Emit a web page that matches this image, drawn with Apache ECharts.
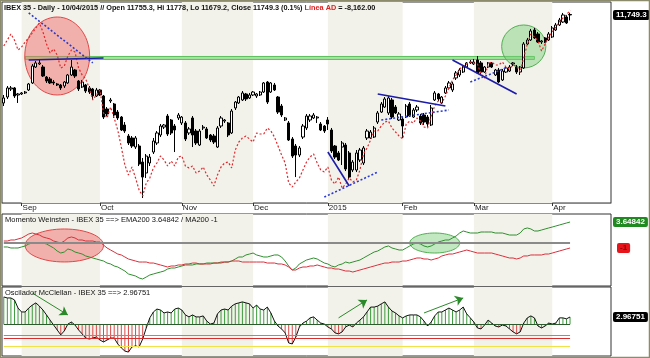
<!DOCTYPE html>
<html><head><meta charset="utf-8">
<script src="https://cdn.jsdelivr.net/npm/echarts@6/dist/echarts.min.js"></script>
<style>html,body{margin:0;padding:0;background:#fff}#c{width:650px;height:358px}</style>
</head><body><div id="c"></div>
<script>
// ---- x-axis: trading-day slots, month labels ----
const slotCount = 171;
const monthLabels = ['Sep', 'Oct', 'Nov', 'Dec', '2015', 'Feb', 'Mar', 'Apr'];
const monthStart = [5, 27, 50, 70, 91, 112, 132, 154];
const shadedMonths = [[5, 27], [50, 70], [91, 112], [132, 154]];

// ---- IBEX 35 daily OHLC ----
const priceOpen = [10623,10699,10802,10815,10725,10738,10751,10789,10879,11083,
11122,11083,10955,10930,10891,10866,10853,10840,10879,10981,
11045,10904,10827,10853,10815,10802,10712,10789,10712,10546,
10648,10610,10507,10443,10341,10200,10175,10059,10072,9867,
9727,9855,9995,10111,10213,10315,10456,10405,10328,10431,
10367,10367,10239,10431,10264,10085,10303,10290,10213,10200,
10059,10328,10392,10367,10239,10559,10623,10661,10738,10687,
10725,10712,10725,10763,10891,10763,10853,10699,10584,10405,
10367,10162,10072,9957,10187,10303,10405,10431,10431,10354,
10328,10405,10277,10072,9983,10059,10085,9983,9765,9765,
9893,9855,10175,10175,10187,10379,10507,10571,10495,10661,
10571,10405,10418,10443,10610,10443,10533,10456,10469,10443,
10341,10661,10738,10623,10751,10815,10789,10943,10981,11019,
11083,11135,11122,11173,11135,11019,11083,11135,10981,11045,
10917,11019,11032,11122,11083,11019,11071,11378,11429,11557,
11506,11403,11455,11429,11467,11557,11621,11659,11723,11755.3];
const priceClose = [10687,10815,10815,10712,10738,10751,10763,10866,11096,11135,
11135,10968,10904,10879,10879,10853,10815,10891,10981,11083,
10968,10802,10891,10776,10763,10712,10789,10725,10443,10482,
10661,10469,10431,10277,10264,10111,10072,10175,9842,9675,
9944,9931,10136,10239,10328,10341,10226,10239,10277,10469,
10443,10162,10290,10213,10111,10264,10315,10175,10149,10123,
10303,10431,10405,10213,10520,10635,10699,10751,10674,10725,
10763,10738,10763,10879,10635,10879,10789,10507,10469,10431,
10149,9944,9957,10047,10328,10456,10456,10469,10443,10277,
10264,10354,10008,9931,9893,10111,9778,9675,9867,9983,
10021,10047,10264,10251,10303,10495,10610,10674,10687,10443,
10495,10482,10328,10584,10456,10533,10571,10367,10379,10354,
10559,10751,10674,10699,10815,10879,10866,11007,11045,11083,
11135,11147,11147,11007,11019,11083,11135,11083,11045,10891,
11032,11071,11083,11135,11019,11083,11378,11429,11544,11455,
11403,11416,11403,11506,11583,11621,11685,11749,11647,11749.3];
const priceLow = [10584,10674,10776,10687,10623,10725,10738,10776,10866,11071,
11109,10955,10879,10866,10853,10840,10789,10815,10866,10968,
10943,10776,10815,10751,10738,10661,10699,10712,10418,10456,
10623,10431,10405,10264,10239,10085,10047,10034,9816,9407,
9663,9816,9970,10085,10187,10290,10200,10213,9995,10405,
10341,10136,10213,10059,10085,10072,10277,10162,10123,10098,
10047,10303,10367,10187,10226,10533,10610,10648,10648,10674,
10712,10687,10712,10751,10610,10751,10776,10482,10443,10392,
10136,9919,9675,9931,10162,10277,10379,10418,10367,10264,
10239,10277,9983,9906,9880,9829,9752,9650,9739,9739,
9867,9829,10149,10162,10175,10354,10495,10559,10469,10418,
10482,10392,10175,10431,10443,10431,10507,10341,10341,10315,
10328,10648,10648,10610,10738,10802,10763,10917,10955,11007,
11071,11122,11109,10994,10994,11007,11071,11071,10968,10879,
10904,11007,11019,11096,10994,10981,11058,11365,11416,11442,
11391,11378,11391,11416,11455,11544,11608,11647,11634,11679.2];
const priceHigh = [10725,10840,10840,10827,10751,10763,10776,10879,11122,11160,
11173,11109,10968,10955,10917,10879,10866,10904,10994,11173,
11058,10917,10917,10866,10840,10815,10815,10802,10725,10571,
10687,10623,10533,10456,10379,10226,10200,10200,10098,9919,
9970,9970,10175,10264,10354,10354,10482,10418,10354,10495,
10456,10392,10315,10456,10290,10290,10341,10315,10226,10226,
10328,10456,10418,10379,10546,10648,10712,10776,10751,10751,
10776,10751,10776,10891,10904,10891,10879,10712,10610,10443,
10392,10187,10098,10072,10354,10482,10482,10495,10456,10379,
10341,10443,10303,10085,10008,10136,10111,10008,9893,10021,
10047,10072,10290,10277,10328,10520,10635,10699,10712,10687,
10597,10507,10443,10610,10635,10559,10597,10482,10495,10469,
10597,10776,10751,10712,10840,10904,10891,11032,11071,11096,
11147,11173,11186,11224,11160,11096,11147,11147,11058,11071,
11058,11096,11109,11147,11109,11096,11403,11455,11570,11583,
11531,11429,11467,11531,11608,11647,11711,11775,11749,11778];

// ---- Línea AD (advance/decline line) ----
const adLine = [-9062,-8912,-8762,-8912,-9162,-9087,-8962,-8862,-8737,-8612,
-8487,-8712,-9012,-9237,-9137,-9287,-9612,-9562,-9312,-9162,
-9212,-9612,-9787,-9887,-10112,-10412,-10287,-10162,-10737,-10862,
-10587,-10862,-11162,-11587,-12037,-12287,-12087,-12362,-12662,-12812,
-12487,-12362,-12112,-11987,-11812,-11912,-12062,-11937,-12062,-11837,
-11812,-12062,-12112,-12062,-12237,-12187,-12087,-12287,-12412,-12562,
-12287,-12087,-11987,-11962,-12112,-11662,-11462,-11362,-11312,-11387,
-11462,-11237,-11262,-11262,-11112,-11187,-11337,-11562,-11787,-11987,
-12487,-12587,-12462,-12362,-12162,-11962,-11837,-11762,-11987,-12162,
-12212,-12087,-12412,-12512,-12337,-12612,-12512,-12362,-12462,-12412,
-12162,-11762,-11612,-11412,-11187,-11187,-11062,-10962,-10937,-11112,
-11212,-11312,-11387,-11012,-10937,-10987,-10862,-10937,-11087,-11112,
-10812,-10562,-10437,-10487,-10312,-10112,-9912,-9787,-9637,-9562,
-9512,-9462,-9487,-9512,-9762,-9862,-9512,-9462,-9537,-9537,
-9462,-9587,-9637,-9537,-9562,-9712,-9362,-9012,-8762,-8837,
-8937,-9187,-9012,-8837,-8712,-8587,-8462,-8362,-8287,-8162];

// ---- Momento Weinsten: EMA200 (green) and MA200 (red) ----
const emaMomentum = [-0.82,-0.82,-1.00,-1.00,-1.00,-0.82,-0.64,-0.29,-0.11,-0.11,
-0.11,-0.11,-0.29,-0.64,-1.00,-1.54,-1.90,-1.72,-1.18,-1.36,
-1.72,-1.90,-2.08,-2.43,-2.61,-2.79,-2.97,-3.15,-3.33,-3.69,
-3.86,-4.22,-4.40,-4.76,-5.12,-5.65,-5.83,-6.01,-6.37,-6.55,
-6.19,-5.83,-5.65,-5.47,-5.30,-5.12,-4.76,-4.58,-4.58,-4.40,
-4.22,-4.04,-4.04,-4.04,-3.86,-3.86,-3.86,-3.69,-3.69,-3.69,
-3.69,-3.51,-3.51,-3.51,-3.33,-2.97,-2.61,-2.61,-2.25,-2.08,
-1.90,-2.25,-2.43,-2.61,-2.61,-2.43,-2.25,-2.25,-2.61,-3.33,
-4.22,-4.94,-4.58,-3.86,-3.51,-3.15,-2.97,-2.79,-2.97,-3.33,
-3.69,-3.86,-4.22,-4.40,-4.04,-3.86,-3.51,-3.69,-3.51,-3.33,
-3.15,-2.79,-2.43,-2.08,-1.72,-1.54,-1.18,-0.82,-0.64,-1.00,
-1.18,-1.36,-1.36,-1.00,-0.64,-0.29,-0.11,-0.29,-0.64,-0.82,
-0.64,-0.29,0.07,0.25,0.43,0.43,0.79,1.14,1.68,2.04,
1.86,1.68,1.68,1.68,1.86,1.86,1.86,1.86,1.68,1.68,
1.68,1.50,1.32,1.32,1.32,1.68,2.40,2.58,2.40,2.04,
2.04,2.22,2.40,2.58,2.75,2.93,3.11,3.29,3.47,3.64842];
const maMomentum = [0.25,0.25,0.43,0.43,0.61,0.79,1.14,1.50,1.68,1.50,
1.32,0.97,0.79,0.61,0.25,0.07,-0.11,0.25,0.79,0.97,
0.79,0.43,0.43,0.25,0.25,0.25,0.07,0.07,-0.47,-1.00,
-1.36,-1.72,-2.08,-2.25,-2.61,-2.97,-3.15,-3.33,-3.51,-3.51,
-3.51,-3.69,-3.69,-3.86,-4.04,-4.22,-4.40,-4.22,-4.22,-4.04,
-4.04,-3.86,-3.86,-3.69,-3.69,-3.86,-3.86,-3.86,-3.86,-3.69,
-3.69,-3.69,-3.51,-3.51,-3.33,-3.33,-3.33,-3.51,-3.51,-3.51,
-3.51,-3.51,-3.51,-3.51,-3.69,-3.69,-3.69,-3.86,-3.86,-4.04,
-4.40,-4.94,-4.94,-4.58,-4.40,-4.40,-4.22,-4.22,-4.04,-4.22,
-4.40,-4.58,-4.58,-4.76,-4.76,-4.94,-5.12,-5.12,-5.30,-5.12,
-4.94,-4.76,-4.58,-4.40,-4.22,-4.04,-3.86,-3.69,-3.69,-3.51,
-3.51,-3.51,-3.33,-3.33,-3.15,-2.97,-2.79,-2.79,-2.97,-2.97,
-3.15,-2.97,-2.79,-2.43,-2.25,-2.08,-2.08,-1.90,-1.72,-1.54,
-1.36,-1.54,-1.72,-1.90,-1.90,-1.90,-1.90,-1.90,-2.08,-2.25,
-2.43,-2.61,-2.79,-2.79,-2.97,-2.79,-2.43,-2.43,-2.25,-2.25,
-2.25,-2.25,-2.08,-2.08,-1.90,-1.72,-1.54,-1.36,-1.18,-1];

// ---- Oscilador McClellan ----
const mcclellan = [11.1,10.7,10.7,9.9,6.6,5.0,5.0,6.6,7.8,8.7,
7.4,5.8,3.8,1.7,-0.3,-2.3,-4.3,-2.7,0.1,0.9,
-0.3,-2.3,-3.9,-5.6,-6.0,-5.6,-5.2,-6.4,-7.2,-6.4,
-5.6,-5.6,-8.0,-9.6,-10.9,-11.3,-9.2,-8.8,-9.2,-6.0,
-1.5,2.6,5.0,6.2,5.8,4.6,5.0,4.6,6.2,6.6,
5.8,3.8,3.0,3.8,3.0,3.0,3.4,1.3,0.1,0.5,
4.2,5.8,6.2,5.8,7.4,8.3,8.7,9.1,8.7,8.3,
6.6,7.8,6.2,5.8,7.0,4.6,1.3,-0.7,-1.9,-3.5,
-7.6,-8.0,-5.2,-1.1,0.5,1.3,2.6,3.0,1.7,0.5,
0.1,-1.1,-1.9,-3.5,-3.9,-3.1,-1.1,-0.3,-1.1,0.5,
1.7,3.0,5.0,7.0,7.0,7.4,8.3,9.1,7.0,5.4,
4.6,3.4,2.6,3.4,3.8,3.8,3.8,3.0,1.3,-0.7,
0.9,3.4,5.0,5.0,5.8,6.6,5.8,5.0,5.8,7.0,
4.2,2.6,0.9,-1.5,-1.9,-0.3,1.7,0.5,-0.7,-1.1,
-0.3,-0.7,-1.9,-3.1,-3.9,-3.1,0.5,2.6,3.4,2.6,
-0.7,-1.5,-0.7,0.5,0.1,0.5,2.6,2.6,2.2,2.96751];
const mcLevels = [{v: -4.35, c: '#e8743c'}, {v: -5.77, c: '#d43030'}, {v: -9.02, c: '#f2e24a'}];

// ---- annotations (day slot, value) ----
const solidTrendlines = [[[7, 11173], [28, 11199]], [[91, 9995], [97, 9560]], [[105, 10738], [124, 10584]], [[126, 11173], [144, 10738]]];
const dottedTrendlines = [[[7, 11775], [25, 11135]], [[90, 9419], [105, 9739]], [[106, 10405], [125, 10533]], [[131, 10891], [141, 11071]]];
const resistanceBand = [[6, 11218], [149, 11180]];
const priceEllipses = [[15, 11224, 9.1, 499, 0], [146, 11346, 6.2, 275, 1]];
const momentumEllipses = [[17, -0.55, 11.0, 2.95, 0], [121, -0.11, 7.0, 1.79, 1]];
const mcArrows = [[[8, 12.7], [18, 3.8]], [[94, 2.6], [102, 9.9]], [[118, 4.6], [129, 10.7]]];

const FONT = '"Liberation Sans", Arial, sans-serif';
const slots = Array.from({length: slotCount}, (_, i) => i);
const isMonthStart = (i) => monthStart.indexOf(i) >= 0;
const lastIdx = priceClose.length - 1;

function shadeItem(params, api) {
  const s = api.coord([api.value(0), api.value(2)]);
  const e = api.coord([api.value(1), api.value(2)]);
  const cs = params.coordSys;
  return {type: 'rect', shape: {x: s[0], y: cs.y, width: e[0] - s[0], height: cs.height}, style: {fill: '#f3f2ea'}};
}
const ellipseFill = ['rgba(240,110,110,0.5)', 'rgba(120,205,120,0.45)'];
const ellipseStroke = ['#e04848', '#50b050'];
function ellipseItem(params, api) {
  const cx = api.value(0), cy = api.value(1);
  const c = api.coord([cx, cy]);
  const band = api.size([1, 0], [cx, cy])[0];
  const ry = api.size([0, api.value(3) * 2], [cx, cy])[1] / 2;
  const k = api.value(4);
  return {type: 'ellipse', shape: {cx: c[0], cy: c[1], rx: band * api.value(2), ry: ry},
    style: {fill: ellipseFill[k], stroke: ellipseStroke[k], lineWidth: 1}};
}
function shadeSeries(xi, yi) {
  return {type: 'custom', xAxisIndex: xi, yAxisIndex: yi, z: 0, silent: true, clip: false,
    renderItem: shadeItem, encode: {x: [0, 1], y: 2},
    data: shadedMonths.map(m => [m[0], m[1], yi === 0 ? 10000 : 0])};
}

const gridBase = {left: 2, width: 609, show: true, borderColor: '#333', borderWidth: 1, backgroundColor: 'transparent'};
const hiddenX = (gi) => ({type: 'category', gridIndex: gi, data: slots, boundaryGap: true,
  axisLine: {show: false}, axisTick: {show: false}, axisLabel: {show: false}, splitLine: {show: false}});
const hiddenY = (gi, min, max) => ({type: 'value', gridIndex: gi, min: min, max: max,
  axisLine: {show: false}, axisTick: {show: false}, axisLabel: {show: false}, splitLine: {show: false}});

const hiddenLine = {color: 'rgba(0,0,0,0)', width: 0};
const endLabel = (text, bg, fg) => ({show: true, position: 'end', distance: 2, formatter: text,
  backgroundColor: bg, color: fg, fontFamily: FONT, fontSize: 8, fontWeight: 'bold', padding: [1, 3, 1, 3], borderRadius: 2});

const priceMarkLines = [];
solidTrendlines.forEach(t => priceMarkLines.push([{coord: t[0], lineStyle: {color: '#1c1ca8', width: 1.6, type: 'solid'}}, {coord: t[1]}]));
dottedTrendlines.forEach(t => priceMarkLines.push([{coord: t[0], lineStyle: {color: '#2a3acc', width: 1.6, type: [2, 2]}}, {coord: t[1]}]));

const mcMarkLines = [
  [{coord: [0, 0], lineStyle: {color: '#2c5a2c', width: 1, type: 'solid'}}, {coord: [lastIdx, 0]}]
];
mcLevels.forEach(l => mcMarkLines.push([{coord: [0, l.v], lineStyle: {color: l.c, width: 1.2, type: 'solid'}}, {coord: [lastIdx, l.v]}]));
mcArrows.forEach(a => mcMarkLines.push([{coord: a[0], symbol: 'none', lineStyle: {color: '#2a8a2a', width: 1, type: 'solid'}}, {coord: a[1], symbol: 'arrow', symbolSize: 8}]));

// value-tag series: a plain markLine at the last value, label at the right edge
function tagSeries(xi, yi, value, text, bg, fg, dist) {
  return {type: 'line', xAxisIndex: xi, yAxisIndex: yi, data: [], clip: false, silent: true, z: 10,
    markLine: {silent: true, symbol: 'none', animation: false,
      data: [{yAxis: value, lineStyle: hiddenLine, label: Object.assign(endLabel(text, bg, fg), {distance: dist})}]}};
}

const chart = echarts.init(document.getElementById('c'), null, {renderer: 'canvas'});
chart.setOption({
  animation: false,
  backgroundColor: '#fff',
  textStyle: {fontFamily: FONT},
  title: [
    {left: 4, top: 4, padding: 0, text: '{a|IBEX 35 - Daily - 10/04/2015 // Open 11755.3, Hi 11778, Lo 11679.2, Close 11749.3 (0.1%) }{r|Línea AD}{a| = -8,162.00}',
      textStyle: {rich: {a: {fontFamily: FONT, fontSize: 7.3, color: '#111'}, r: {fontFamily: FONT, fontSize: 7.3, color: '#e02020'}}}},
    {left: 5, top: 216, padding: 0, text: 'Momento Weinsten - IBEX 35 ==> EMA200 3.64842 / MA200 -1',
      textStyle: {fontFamily: FONT, fontSize: 7.5, fontWeight: 'normal', color: '#111'}},
    {left: 5, top: 289, padding: 0, text: 'Oscilador McClellan - IBEX 35 ==> 2.96751',
      textStyle: {fontFamily: FONT, fontSize: 7.5, fontWeight: 'normal', color: '#111'}}
  ],
  grid: [
    Object.assign({}, gridBase, {top: 2, height: 201}),
    Object.assign({}, gridBase, {top: 214, height: 72}),
    Object.assign({}, gridBase, {top: 287, height: 69})
  ],
  xAxis: [
    {type: 'category', gridIndex: 0, data: slots, boundaryGap: true,
      axisLine: {show: true, lineStyle: {color: '#888'}},
      axisTick: {show: true, interval: isMonthStart, alignWithLabel: true, length: 3, lineStyle: {color: '#333'}},
      axisLabel: {show: true, interval: isMonthStart, align: 'left', margin: 1, fontFamily: FONT, fontSize: 8, color: '#222', padding: [0, 0, 0, 1],
        formatter: (v, i) => monthLabels[monthStart.indexOf(i)] || ''},
      splitLine: {show: false}},
    hiddenX(1), hiddenX(2)
  ],
  yAxis: [
    hiddenY(0, 9343, 11915),
    hiddenY(0, -12987, -7962),
    hiddenY(1, -7.8, 5.08),
    hiddenY(2, -12.9, 15.16)
  ],
  series: [
    shadeSeries(0, 0), shadeSeries(1, 2), shadeSeries(2, 3),
    {type: 'custom', xAxisIndex: 0, yAxisIndex: 0, z: 1, silent: true, clip: false, renderItem: ellipseItem,
      encode: {x: 0, y: 1}, data: priceEllipses},
    {type: 'candlestick', xAxisIndex: 0, yAxisIndex: 0, z: 2, barWidth: 2.7, clip: false,
      data: priceOpen.map((o, i) => [o, priceClose[i], priceLow[i], priceHigh[i]]),
      itemStyle: {color: '#fff', color0: '#000', borderColor: '#000', borderColor0: '#000', borderWidth: 1},
      markArea: {silent: true, itemStyle: {color: '#a6e3a0', borderColor: '#5cc05c', borderWidth: 1},
        data: [[{coord: resistanceBand[0]}, {coord: resistanceBand[1]}]]},
      markLine: {silent: true, symbol: 'none', label: {show: false}, data: priceMarkLines}},
    {type: 'line', xAxisIndex: 0, yAxisIndex: 1, z: 3, data: adLine, symbol: 'none',
      lineStyle: {color: '#e0282c', width: 1.2, type: [2, 2]}},
    {type: 'custom', xAxisIndex: 1, yAxisIndex: 2, z: 1, silent: true, clip: false, renderItem: ellipseItem,
      encode: {x: 0, y: 1}, data: momentumEllipses},
    {type: 'line', xAxisIndex: 1, yAxisIndex: 2, z: 3, data: emaMomentum, symbol: 'none',
      lineStyle: {color: '#2f8f2f', width: 1},
      markLine: {silent: true, symbol: 'none', label: {show: false}, data: [
        [{coord: [0, 0], lineStyle: {color: '#8a8a8a', width: 2, type: 'solid'}}, {coord: [lastIdx, 0]}]
      ]}},
    {type: 'line', xAxisIndex: 1, yAxisIndex: 2, z: 3, data: maMomentum, symbol: 'none',
      lineStyle: {color: '#d8303c', width: 1}},
    {type: 'bar', xAxisIndex: 2, yAxisIndex: 3, z: 2, barWidth: 1, data: mcclellan,
      itemStyle: {color: (p) => p.value >= 0 ? '#3c9a3c' : '#d84848'}},
    {type: 'line', xAxisIndex: 2, yAxisIndex: 3, z: 3, data: mcclellan, symbol: 'none',
      lineStyle: {color: '#111', width: 1},
      markLine: {silent: true, symbol: 'none', label: {show: false}, data: mcMarkLines}},
    tagSeries(0, 0, priceClose[lastIdx], '11,749.3', '#000', '#fff', 2),
    tagSeries(1, 2, emaMomentum[lastIdx], '3.64842', '#1f8a1f', '#fff', 2),
    tagSeries(1, 2, maMomentum[lastIdx], '-1', '#e8141c', '#8a0000', 6),
    tagSeries(2, 3, mcclellan[lastIdx], '2.96751', '#000', '#fff', 2)
  ],
  graphic: [
    {type: 'rect', silent: true, z: 100, shape: {x: 0.5, y: 0.5, width: 649, height: 357},
      style: {fill: 'none', stroke: '#8c8c6c', lineWidth: 1.5}}
  ]
});
</script>
</body></html>
